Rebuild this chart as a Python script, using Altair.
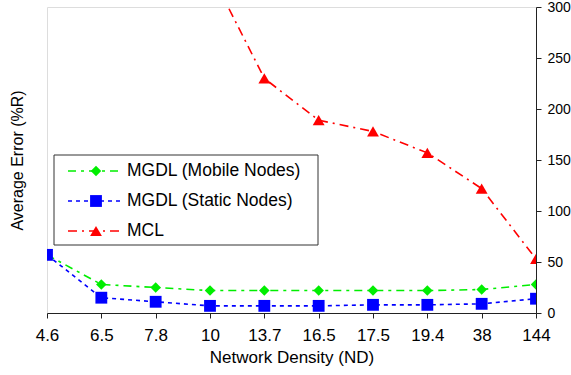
import altair as alt
import pandas as pd

densities = ["4.6", "6.5", "7.8", "10", "13.7", "16.5", "17.5", "19.4", "38", "144"]
mgdl_mobile = [57, 28, 25, 22, 22, 22, 22, 22, 23, 28]
mgdl_static = [57, 15, 11, 7, 7, 7, 8, 8, 9, 14]
mcl_x = ["10", "13.7", "16.5", "17.5", "19.4", "38", "144"]
mcl = [335, 230, 189, 178, 157, 122, 53]

series_names = ["MGDL (Mobile Nodes)", "MGDL (Static Nodes)", "MCL"]
colors = ["#00ee00", "#0000ff", "#ff0000"]
dashes = [[8, 5, 3, 5], [4, 4], [9, 5, 2, 5]]
shapes = ["diamond", "square", "triangle-up"]
sizes = [110, 140, 140]

rows = []
for d, v in zip(densities, mgdl_mobile):
    rows.append({"nd": d, "err": v, "series": series_names[0]})
for d, v in zip(densities, mgdl_static):
    rows.append({"nd": d, "err": v, "series": series_names[1]})
for d, v in zip(mcl_x, mcl):
    rows.append({"nd": d, "err": v, "series": series_names[2]})
df = pd.DataFrame(rows)

W, H = 489, 306

x_enc = alt.X(
    "nd:O", sort=densities,
    scale=alt.Scale(padding=0),
    axis=alt.Axis(labelAngle=0, title="Network Density (ND)", labelFontSize=17,
                  titleFontSize=17, titleFontWeight="normal", tickSize=5,
                  labelPadding=9, titlePadding=6, domainColor="#222",
                  tickColor="#222", labelColor="#000", titleColor="#000"),
)
y_enc = alt.Y(
    "err:Q",
    scale=alt.Scale(domain=[0, 300], nice=False),
    axis=alt.Axis(orient="right", values=[0, 50, 100, 150, 200, 250, 300],
                  labelFontSize=14, tickSize=5, labelPadding=6, grid=False,
                  domainColor="#222", tickColor="#222", labelColor="#000",
                  title="Average Error (%R)", titleFontSize=16,
                  titleFontWeight="normal", titleColor="#000",
                  titleAngle=270, titleX=-519, titleY=153,
                  titleAlign="center", titleBaseline="middle"),
)

layers = []
for name, c, dsh, shp, sz in zip(series_names, colors, dashes, shapes, sizes):
    sub = df[df["series"] == name]
    base = alt.Chart(sub)
    layers.append(base.mark_line(color=c, strokeDash=dsh, strokeWidth=1.6, clip=True)
                  .encode(x=x_enc, y=y_enc))
    layers.append(base.mark_point(color=c, shape=shp, size=sz, filled=True, opacity=1, clip=True)
                  .encode(x=x_enc, y=y_enc))

# legend box
one = alt.Data(values=[{"a": 1}])
layers.append(alt.Chart(one).mark_rect(fill="white", stroke="#333", strokeWidth=1).encode(
    x=alt.value(7), x2=alt.value(271), y=alt.value(148), y2=alt.value(238)))
row_y = [164, 194, 224]
for name, c, dsh, shp, sz, yy in zip(series_names, colors, dashes, shapes, sizes, row_y):
    layers.append(alt.Chart(one).mark_rule(color=c, strokeDash=dsh, strokeWidth=1.6).encode(
        x=alt.value(21), x2=alt.value(73), y=alt.value(yy)))
    layers.append(alt.Chart(one).mark_point(color=c, shape=shp, size=sz, filled=True, opacity=1).encode(
        x=alt.value(49), y=alt.value(yy)))
    layers.append(alt.Chart(one).mark_text(text=name, align="left", baseline="middle",
                                           fontSize=17.5, color="#000").encode(
        x=alt.value(80), y=alt.value(yy)))

chart = alt.layer(*layers).properties(
    width=W, height=H,
    autosize=alt.AutoSizeParams(type="none"),
    padding={"left": 47, "top": 7, "right": 35, "bottom": 62},
).configure_view(stroke="#888", strokeWidth=1.5).configure(
    font="Liberation Sans", background="white"
)

chart.save("out.html", embed_options={"renderer": "svg", "actions": False})
